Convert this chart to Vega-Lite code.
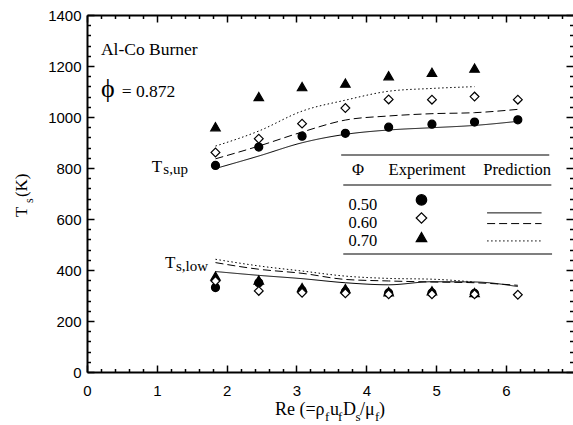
{
  "$schema": "https://vega.github.io/schema/vega-lite/v6.json",
  "width": 486,
  "height": 357,
  "autosize": "none",
  "padding": {"left": 87, "top": 15, "right": 0, "bottom": 53},
  "background": "white",
  "config": {"view": {"stroke": null}, "axis": {"grid": false, "domain": false, "title": null, "labelFlush": false}},
  "resolve": {"axis": {"x": "independent", "y": "independent"}},
  "datasets": {
    "exp": [
      {"phi": "0.50", "pos": "up", "re": 1.84, "ts": 810}, {"phi": "0.50", "pos": "up", "re": 2.46, "ts": 882}, {"phi": "0.50", "pos": "up", "re": 3.08, "ts": 925}, {"phi": "0.50", "pos": "up", "re": 3.70, "ts": 936}, {"phi": "0.50", "pos": "up", "re": 4.32, "ts": 960}, {"phi": "0.50", "pos": "up", "re": 4.94, "ts": 972}, {"phi": "0.50", "pos": "up", "re": 5.55, "ts": 980}, {"phi": "0.50", "pos": "up", "re": 6.17, "ts": 989},
      {"phi": "0.50", "pos": "low", "re": 1.84, "ts": 331}, {"phi": "0.50", "pos": "low", "re": 2.46, "ts": 350}, {"phi": "0.50", "pos": "low", "re": 3.08, "ts": 320}, {"phi": "0.50", "pos": "low", "re": 3.70, "ts": 315}, {"phi": "0.50", "pos": "low", "re": 4.32, "ts": 310}, {"phi": "0.50", "pos": "low", "re": 4.94, "ts": 310}, {"phi": "0.50", "pos": "low", "re": 5.55, "ts": 308},
      {"phi": "0.70", "pos": "up", "re": 1.84, "ts": 962}, {"phi": "0.70", "pos": "up", "re": 2.46, "ts": 1080}, {"phi": "0.70", "pos": "up", "re": 3.08, "ts": 1119}, {"phi": "0.70", "pos": "up", "re": 3.70, "ts": 1133}, {"phi": "0.70", "pos": "up", "re": 4.32, "ts": 1162}, {"phi": "0.70", "pos": "up", "re": 4.94, "ts": 1175}, {"phi": "0.70", "pos": "up", "re": 5.55, "ts": 1192},
      {"phi": "0.70", "pos": "low", "re": 1.84, "ts": 376}, {"phi": "0.70", "pos": "low", "re": 2.46, "ts": 361}, {"phi": "0.70", "pos": "low", "re": 3.08, "ts": 331}, {"phi": "0.70", "pos": "low", "re": 3.70, "ts": 327}, {"phi": "0.70", "pos": "low", "re": 4.32, "ts": 315}, {"phi": "0.70", "pos": "low", "re": 4.94, "ts": 318}, {"phi": "0.70", "pos": "low", "re": 5.55, "ts": 312},
      {"phi": "0.60", "pos": "up", "re": 1.84, "ts": 861}, {"phi": "0.60", "pos": "up", "re": 2.46, "ts": 915}, {"phi": "0.60", "pos": "up", "re": 3.08, "ts": 974}, {"phi": "0.60", "pos": "up", "re": 3.70, "ts": 1035}, {"phi": "0.60", "pos": "up", "re": 4.32, "ts": 1069}, {"phi": "0.60", "pos": "up", "re": 4.94, "ts": 1068}, {"phi": "0.60", "pos": "up", "re": 5.55, "ts": 1080}, {"phi": "0.60", "pos": "up", "re": 6.17, "ts": 1068},
      {"phi": "0.60", "pos": "low", "re": 1.84, "ts": 357}, {"phi": "0.60", "pos": "low", "re": 2.46, "ts": 318}, {"phi": "0.60", "pos": "low", "re": 3.08, "ts": 311}, {"phi": "0.60", "pos": "low", "re": 3.70, "ts": 309}, {"phi": "0.60", "pos": "low", "re": 4.32, "ts": 305}, {"phi": "0.60", "pos": "low", "re": 4.94, "ts": 305}, {"phi": "0.60", "pos": "low", "re": 5.55, "ts": 305}, {"phi": "0.60", "pos": "low", "re": 6.17, "ts": 303}
    ],
    "pred": [
      {"phi": "0.50", "pos": "up", "re": 1.84, "ts": 798}, {"phi": "0.50", "pos": "up", "re": 2.46, "ts": 847}, {"phi": "0.50", "pos": "up", "re": 3.08, "ts": 899}, {"phi": "0.50", "pos": "up", "re": 3.70, "ts": 932}, {"phi": "0.50", "pos": "up", "re": 4.32, "ts": 949}, {"phi": "0.50", "pos": "up", "re": 4.94, "ts": 958}, {"phi": "0.50", "pos": "up", "re": 5.55, "ts": 967}, {"phi": "0.50", "pos": "up", "re": 6.17, "ts": 983},
      {"phi": "0.60", "pos": "up", "re": 1.84, "ts": 836}, {"phi": "0.60", "pos": "up", "re": 2.46, "ts": 886}, {"phi": "0.60", "pos": "up", "re": 3.08, "ts": 941}, {"phi": "0.60", "pos": "up", "re": 3.70, "ts": 988}, {"phi": "0.60", "pos": "up", "re": 4.32, "ts": 1004}, {"phi": "0.60", "pos": "up", "re": 4.94, "ts": 1013}, {"phi": "0.60", "pos": "up", "re": 5.55, "ts": 1017}, {"phi": "0.60", "pos": "up", "re": 6.17, "ts": 1030},
      {"phi": "0.70", "pos": "up", "re": 1.84, "ts": 886}, {"phi": "0.70", "pos": "up", "re": 2.46, "ts": 945}, {"phi": "0.70", "pos": "up", "re": 3.08, "ts": 1023}, {"phi": "0.70", "pos": "up", "re": 3.70, "ts": 1066}, {"phi": "0.70", "pos": "up", "re": 4.32, "ts": 1101}, {"phi": "0.70", "pos": "up", "re": 4.94, "ts": 1112}, {"phi": "0.70", "pos": "up", "re": 5.55, "ts": 1119},
      {"phi": "0.50", "pos": "low", "re": 1.84, "ts": 394}, {"phi": "0.50", "pos": "low", "re": 2.46, "ts": 379}, {"phi": "0.50", "pos": "low", "re": 3.08, "ts": 366}, {"phi": "0.50", "pos": "low", "re": 3.70, "ts": 350}, {"phi": "0.50", "pos": "low", "re": 4.32, "ts": 342}, {"phi": "0.50", "pos": "low", "re": 4.94, "ts": 354}, {"phi": "0.50", "pos": "low", "re": 5.55, "ts": 353}, {"phi": "0.50", "pos": "low", "re": 6.17, "ts": 335},
      {"phi": "0.60", "pos": "low", "re": 1.84, "ts": 429}, {"phi": "0.60", "pos": "low", "re": 2.46, "ts": 403}, {"phi": "0.60", "pos": "low", "re": 3.08, "ts": 387}, {"phi": "0.60", "pos": "low", "re": 3.70, "ts": 363}, {"phi": "0.60", "pos": "low", "re": 4.32, "ts": 357}, {"phi": "0.60", "pos": "low", "re": 4.94, "ts": 353}, {"phi": "0.60", "pos": "low", "re": 5.55, "ts": 350}, {"phi": "0.60", "pos": "low", "re": 6.17, "ts": 340},
      {"phi": "0.70", "pos": "low", "re": 1.84, "ts": 442}, {"phi": "0.70", "pos": "low", "re": 2.46, "ts": 416}, {"phi": "0.70", "pos": "low", "re": 3.08, "ts": 396}, {"phi": "0.70", "pos": "low", "re": 3.70, "ts": 376}, {"phi": "0.70", "pos": "low", "re": 4.32, "ts": 367}, {"phi": "0.70", "pos": "low", "re": 4.94, "ts": 364}, {"phi": "0.70", "pos": "low", "re": 5.55, "ts": 353}
    ],
    "ann_big": [{"x": 0.2, "y": 1243, "t": "Al-Co Burner"}, {"x": 0.497, "y": 1080, "t": "= 0.872"}],
    "ann_phi": [{"x": 0.2, "y": 1078, "t": "ϕ"}],
    "ann_T": [{"x": 0.927, "y": 786, "t": "T"}, {"x": 1.117, "y": 408, "t": "T"}],
    "ann_Tsub": [{"x": 1.093, "y": 775, "t": "s,up"}, {"x": 1.275, "y": 397, "t": "s,low"}],
    "leg_text": [{"x": 3.88, "y": 773, "t": "Φ"}, {"x": 4.87, "y": 773, "t": "Experiment"}, {"x": 6.16, "y": 773, "t": "Prediction"}, {"x": 3.95, "y": 635, "t": "0.50"}, {"x": 3.95, "y": 565, "t": "0.60"}, {"x": 3.95, "y": 494, "t": "0.70"}],
    "leg_rule": [{"x": 3.64, "x2": 6.62, "y": 851}, {"x": 3.67, "x2": 6.65, "y": 733}, {"x": 3.67, "x2": 6.66, "y": 463}],
    "leg_sym": [{"phi": "0.50", "x": 4.79, "y": 675}, {"phi": "0.60", "x": 4.79, "y": 604}, {"phi": "0.70", "x": 4.79, "y": 529}],
    "leg_line": [{"phi": "0.50", "x": 5.73, "x2": 6.51, "y": 624}, {"phi": "0.60", "x": 5.73, "x2": 6.51, "y": 582}, {"phi": "0.70", "x": 5.73, "x2": 6.51, "y": 514}],
    "xt_main": [{"x": 2.692, "y": -169, "t": "Re (=ρ"}, {"x": 3.48, "y": -169, "t": "u"}, {"x": 3.666, "y": -169, "t": "D"}, {"x": 3.909, "y": -169, "t": "/μ"}, {"x": 4.181, "y": -169, "t": ")"}],
    "xt_sub": [{"x": 3.408, "y": -192, "t": "f"}, {"x": 3.594, "y": -192, "t": "f"}, {"x": 3.845, "y": -192, "t": "s"}, {"x": 4.124, "y": -192, "t": "f"}],
    "yt_main": [{"x": -0.86, "y": 608, "t": "T"}, {"x": -0.86, "y": 686, "t": "(K)"}],
    "yt_sub": [{"x": -0.774, "y": 663, "t": "s"}]
  },
  "layer": [
    {
      "data": {"name": "exp"},
      "mark": {"type": "point", "opacity": 0},
      "encoding": {
        "x": {"field": "re", "type": "quantitative", "scale": {"domain": [0, 6.96], "nice": false, "zero": false},
          "axis": {"orient": "bottom", "values": [0, 1, 2, 3, 4, 5, 6, 7], "format": "d", "domain": true, "domainColor": "black", "domainWidth": 2, "tickSize": -7, "tickWidth": 1.5, "tickColor": "black", "labelFont": "Liberation Sans", "labelFontSize": 15, "labelColor": "black", "labelPadding": 18, "labelFlush": false, "labelOverlap": false, "title": null}},
        "y": {"field": "ts", "type": "quantitative", "scale": {"domain": [0, 1400], "nice": false, "zero": false},
          "axis": {"orient": "left", "values": [0, 200, 400, 600, 800, 1000, 1200, 1400], "format": "d", "domain": true, "domainColor": "black", "domainWidth": 2, "tickSize": -7, "tickWidth": 1.5, "tickColor": "black", "labelFont": "Liberation Sans", "labelFontSize": 15, "labelColor": "black", "labelPadding": 13, "labelOverlap": false, "title": null}}
      }
    },
    {
      "data": {"name": "exp"},
      "mark": {"type": "point", "opacity": 0},
      "encoding": {
        "x": {"field": "re", "type": "quantitative", "scale": {"domain": [0, 6.96], "nice": false, "zero": false},
          "axis": {"orient": "bottom", "values": [0.2, 0.4, 0.6, 0.8, 1.2, 1.4, 1.6, 1.8, 2.2, 2.4, 2.6, 2.8, 3.2, 3.4, 3.6, 3.8, 4.2, 4.4, 4.6, 4.8, 5.2, 5.4, 5.6, 5.8, 6.2, 6.4, 6.6, 6.8], "labels": false, "domain": false, "tickSize": -3.5, "tickWidth": 1.5, "tickColor": "black", "title": null}},
        "y": {"field": "ts", "type": "quantitative", "scale": {"domain": [0, 1400], "nice": false, "zero": false},
          "axis": {"orient": "left", "values": [40, 80, 120, 160, 240, 280, 320, 360, 440, 480, 520, 560, 640, 680, 720, 760, 840, 880, 920, 960, 1040, 1080, 1120, 1160, 1240, 1280, 1320, 1360], "labels": false, "domain": false, "tickSize": -3.5, "tickWidth": 1.5, "tickColor": "black", "title": null}}
      }
    },
    {
      "data": {"name": "exp"},
      "mark": {"type": "point", "opacity": 0},
      "encoding": {
        "x": {"field": "re", "type": "quantitative", "scale": {"domain": [0, 6.96], "nice": false, "zero": false},
          "axis": {"orient": "top", "values": [0, 1, 2, 3, 4, 5, 6, 7], "labels": false, "domain": true, "domainColor": "black", "domainWidth": 2, "tickSize": -7, "tickWidth": 1.5, "tickColor": "black", "title": null}},
        "y": {"field": "ts", "type": "quantitative", "scale": {"domain": [0, 1400], "nice": false, "zero": false},
          "axis": {"orient": "right", "values": [0, 200, 400, 600, 800, 1000, 1200, 1400], "labels": false, "domain": false, "tickSize": -7, "tickWidth": 1.5, "tickColor": "black", "title": null}}
      }
    },
    {
      "data": {"name": "exp"},
      "mark": {"type": "point", "opacity": 0},
      "encoding": {
        "x": {"field": "re", "type": "quantitative", "scale": {"domain": [0, 6.96], "nice": false, "zero": false},
          "axis": {"orient": "top", "values": [0.2, 0.4, 0.6, 0.8, 1.2, 1.4, 1.6, 1.8, 2.2, 2.4, 2.6, 2.8, 3.2, 3.4, 3.6, 3.8, 4.2, 4.4, 4.6, 4.8, 5.2, 5.4, 5.6, 5.8, 6.2, 6.4, 6.6, 6.8], "labels": false, "domain": false, "tickSize": -3.5, "tickWidth": 1.5, "tickColor": "black", "title": null}},
        "y": {"field": "ts", "type": "quantitative", "scale": {"domain": [0, 1400], "nice": false, "zero": false},
          "axis": {"orient": "right", "values": [40, 80, 120, 160, 240, 280, 320, 360, 440, 480, 520, 560, 640, 680, 720, 760, 840, 880, 920, 960, 1040, 1080, 1120, 1160, 1240, 1280, 1320, 1360], "labels": false, "domain": false, "tickSize": -3.5, "tickWidth": 1.5, "tickColor": "black", "title": null}}
      }
    },
    {
      "data": {"name": "pred"},
      "mark": {"type": "line", "interpolate": "monotone", "color": "black", "strokeWidth": 1},
      "encoding": {
        "x": {"field": "re", "type": "quantitative", "axis": null},
        "y": {"field": "ts", "type": "quantitative", "axis": null},
        "detail": {"field": "pos"},
        "strokeDash": {"field": "phi", "type": "nominal", "scale": {"domain": ["0.50", "0.60", "0.70"], "range": [[1, 0], [8, 4], [1.5, 2.5]]}, "legend": null}
      }
    },
    {
      "data": {"name": "exp"},
      "mark": {"type": "point", "opacity": 1, "stroke": "black", "strokeWidth": 1.2},
      "encoding": {
        "x": {"field": "re", "type": "quantitative", "axis": null},
        "y": {"field": "ts", "type": "quantitative", "axis": null},
        "shape": {"field": "phi", "type": "nominal", "scale": {"domain": ["0.50", "0.60", "0.70"], "range": ["circle", "diamond", "triangle-up"]}, "legend": null},
        "fill": {"field": "phi", "type": "nominal", "scale": {"domain": ["0.50", "0.60", "0.70"], "range": ["black", "white", "black"]}, "legend": null},
        "size": {"field": "phi", "type": "nominal", "scale": {"domain": ["0.50", "0.60", "0.70"], "range": [64, 90, 75]}, "legend": null}
      }
    },
    {
      "data": {"name": "leg_sym"},
      "mark": {"type": "point", "opacity": 1, "stroke": "black", "strokeWidth": 1.2, "size": 110},
      "encoding": {
        "x": {"field": "x", "type": "quantitative", "axis": null},
        "y": {"field": "y", "type": "quantitative", "axis": null},
        "shape": {"field": "phi", "type": "nominal", "legend": null},
        "fill": {"field": "phi", "type": "nominal", "legend": null}
      }
    },
    {
      "data": {"name": "leg_line"},
      "mark": {"type": "rule", "color": "black", "strokeWidth": 1},
      "encoding": {
        "x": {"field": "x", "type": "quantitative", "axis": null},
        "x2": {"field": "x2"},
        "y": {"field": "y", "type": "quantitative", "axis": null},
        "strokeDash": {"field": "phi", "type": "nominal", "legend": null}
      }
    },
    {
      "data": {"name": "leg_rule"},
      "mark": {"type": "rule", "color": "#555555", "strokeWidth": 1.5},
      "encoding": {
        "x": {"field": "x", "type": "quantitative", "axis": null},
        "x2": {"field": "x2"},
        "y": {"field": "y", "type": "quantitative", "axis": null}
      }
    },
    {
      "data": {"name": "leg_text"},
      "mark": {"type": "text", "font": "Liberation Serif", "fontSize": 16.5, "align": "center", "baseline": "alphabetic", "color": "black"},
      "encoding": {
        "x": {"field": "x", "type": "quantitative", "axis": null},
        "y": {"field": "y", "type": "quantitative", "axis": null},
        "text": {"field": "t"}
      }
    },
    {
      "data": {"name": "ann_big"},
      "mark": {"type": "text", "font": "Liberation Serif", "fontSize": 17.5, "align": "left", "baseline": "alphabetic", "color": "black"},
      "encoding": {
        "x": {"field": "x", "type": "quantitative", "axis": null},
        "y": {"field": "y", "type": "quantitative", "axis": null},
        "text": {"field": "t"}
      }
    },
    {
      "data": {"name": "ann_phi"},
      "mark": {"type": "text", "font": "Liberation Serif", "fontSize": 26, "align": "left", "baseline": "alphabetic", "color": "black"},
      "encoding": {
        "x": {"field": "x", "type": "quantitative", "axis": null},
        "y": {"field": "y", "type": "quantitative", "axis": null},
        "text": {"field": "t"}
      }
    },
    {
      "data": {"name": "ann_T"},
      "mark": {"type": "text", "font": "Liberation Serif", "fontSize": 17, "align": "left", "baseline": "alphabetic", "color": "black"},
      "encoding": {
        "x": {"field": "x", "type": "quantitative", "axis": null},
        "y": {"field": "y", "type": "quantitative", "axis": null},
        "text": {"field": "t"}
      }
    },
    {
      "data": {"name": "ann_Tsub"},
      "mark": {"type": "text", "font": "Liberation Serif", "fontSize": 15, "align": "left", "baseline": "alphabetic", "color": "black"},
      "encoding": {
        "x": {"field": "x", "type": "quantitative", "axis": null},
        "y": {"field": "y", "type": "quantitative", "axis": null},
        "text": {"field": "t"}
      }
    },
    {
      "data": {"name": "xt_main"},
      "mark": {"type": "text", "font": "Liberation Serif", "fontSize": 18, "align": "left", "baseline": "alphabetic", "color": "black"},
      "encoding": {
        "x": {"field": "x", "type": "quantitative", "axis": null},
        "y": {"field": "y", "type": "quantitative", "axis": null},
        "text": {"field": "t"}
      }
    },
    {
      "data": {"name": "xt_sub"},
      "mark": {"type": "text", "font": "Liberation Serif", "fontSize": 13, "align": "left", "baseline": "alphabetic", "color": "black"},
      "encoding": {
        "x": {"field": "x", "type": "quantitative", "axis": null},
        "y": {"field": "y", "type": "quantitative", "axis": null},
        "text": {"field": "t"}
      }
    },
    {
      "data": {"name": "yt_main"},
      "mark": {"type": "text", "font": "Liberation Serif", "fontSize": 17, "align": "left", "baseline": "alphabetic", "angle": -90, "color": "black"},
      "encoding": {
        "x": {"field": "x", "type": "quantitative", "axis": null},
        "y": {"field": "y", "type": "quantitative", "axis": null},
        "text": {"field": "t"}
      }
    },
    {
      "data": {"name": "yt_sub"},
      "mark": {"type": "text", "font": "Liberation Serif", "fontSize": 12, "align": "left", "baseline": "alphabetic", "angle": -90, "color": "black"},
      "encoding": {
        "x": {"field": "x", "type": "quantitative", "axis": null},
        "y": {"field": "y", "type": "quantitative", "axis": null},
        "text": {"field": "t"}
      }
    }
  ]
}
